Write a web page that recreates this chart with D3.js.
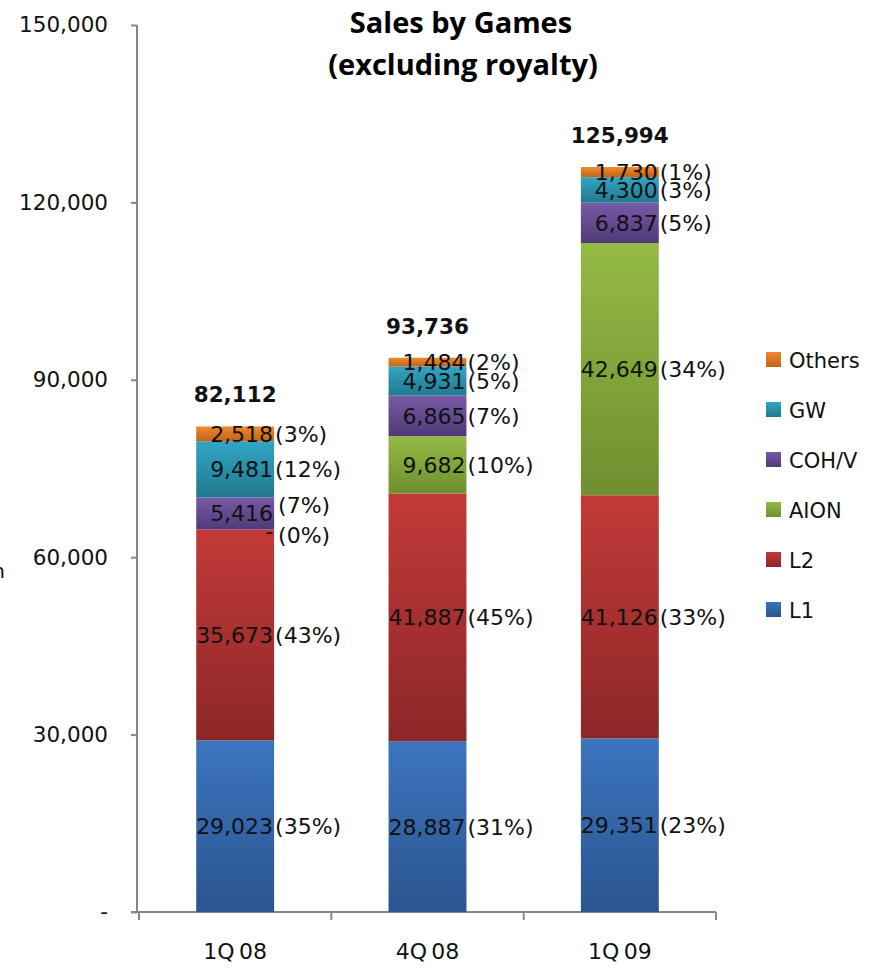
<!DOCTYPE html>
<html>
<head>
<meta charset="utf-8">
<script src="https://cdn.jsdelivr.net/npm/d3@7"></script>
<style>
  body { margin: 0; background: #fff; }
  svg { display: block; font-family: "DejaVu Sans", sans-serif; }
</style>
</head>
<body>
<svg id="chart" width="876" height="973"></svg>
<script>
// Data
var categories = ['1Q 08', '4Q 08', '1Q 09'];
var games = ['L1', 'L2', 'AION', 'COH/V', 'GW', 'Others'];
var l1 = [29023, 28887, 29351];
var l2 = [35673, 41887, 41126];
var aion = [0, 9682, 42649];
var cohv = [5416, 6865, 6837];
var gw = [9481, 4931, 4300];
var others = [2518, 1484, 1730];
var totals = [82112, 93736, 125994];
var pctL1 = [35, 31, 23];
var pctL2 = [43, 45, 33];
var pctAion = [0, 10, 34];
var pctCohv = [7, 7, 5];
var pctGw = [12, 5, 3];
var pctOthers = [3, 2, 1];
var yTicks = [0, 30000, 60000, 90000, 120000, 150000];

var values = [l1, l2, aion, cohv, gw, others];
var pcts = [pctL1, pctL2, pctAion, pctCohv, pctGw, pctOthers];

// colours (top, bottom of each gradient)
var colors = {
  'L1': ['#3c74be', '#2a5590'],
  'L2': ['#c23a38', '#8c2727'],
  'AION': ['#94ba45', '#6f8f30'],
  'COH/V': ['#785aa6', '#4f3a78'],
  'GW': ['#30a6c4', '#227890'],
  'Others': ['#f08a2c', '#c0641a']
};

var svg = d3.select('#chart');
var defs = svg.append('defs');
games.forEach(function(g, i) {
  var grad = defs.append('linearGradient')
    .attr('id', 'grad' + i)
    .attr('x1', 0).attr('y1', 0).attr('x2', 0).attr('y2', 1);
  grad.append('stop').attr('offset', '0%').attr('stop-color', colors[g][0]);
  grad.append('stop').attr('offset', '100%').attr('stop-color', colors[g][1]);
});

var x = d3.scaleBand().domain(categories).range([139, 716]);
var y = d3.scaleLinear().domain([0, 150000]).range([912, 25]);
var barW = x.bandwidth() * 0.405;
var fmt = d3.format(',');

// stacking
var rows = categories.map(function(c, i) {
  var r = { cat: c };
  games.forEach(function(g, j) { r[g] = values[j][i]; });
  return r;
});
var stack = d3.stack().keys(games)(rows);

// axes
var yAxis = svg.append('g')
  .attr('transform', 'translate(137,0)')
  .call(d3.axisLeft(y).tickValues(yTicks).tickSize(6).tickPadding(23)
    .tickFormat(function(d) { return d === 0 ? '-' : fmt(d); }));
yAxis.select('.domain').attr('d', 'M0,' + y(150000) + 'V' + y(0));
yAxis.selectAll('line').attr('stroke', '#888').attr('stroke-width', 2);
yAxis.select('.domain').attr('stroke', '#888').attr('stroke-width', 2);
yAxis.selectAll('text').attr('font-size', 21.5).attr('fill', '#111')
  .attr('font-family', '"DejaVu Sans", sans-serif');

var xAxis = svg.append('g')
  .attr('transform', 'translate(0,912)');
xAxis.append('line')
  .attr('x1', 131).attr('x2', 716).attr('y1', 0).attr('y2', 0)
  .attr('stroke', '#888').attr('stroke-width', 2);
xAxis.selectAll('.tk')
  .data([139].concat(categories.map(function(c) { return x(c) + x.bandwidth(); })))
  .enter().append('line')
  .attr('x1', function(d) { return d; }).attr('x2', function(d) { return d; })
  .attr('y1', 0).attr('y2', 8)
  .attr('stroke', '#888').attr('stroke-width', 2);
xAxis.selectAll('.lbl')
  .data(categories).enter().append('text')
  .attr('x', function(d) { return x(d) + x.bandwidth() / 2; })
  .attr('y', 47)
  .attr('text-anchor', 'middle')
  .attr('font-size', 22).attr('fill', '#111')
  .text(function(d) { return d.replace(' ', '\u2009'); });

// bars
var layers = svg.selectAll('.layer').data(stack).enter().append('g')
  .attr('fill', function(d, i) { return 'url(#grad' + i + ')'; });
layers.selectAll('rect').data(function(d) { return d; }).enter().append('rect')
  .attr('x', function(d) { return x(d.data.cat) + (x.bandwidth() - barW) / 2; })
  .attr('width', barW)
  .attr('y', function(d) { return y(d[1]); })
  .attr('height', function(d) { return y(d[0]) - y(d[1]); });

// segment labels
stack.forEach(function(layer, j) {
  layer.forEach(function(d, i) {
    var cx = x(d.data.cat) + (x.bandwidth() + barW) / 2;
    var v = values[j][i];
    var cy = (y(d[0]) + y(d[1])) / 2 + 8;
    var py = cy;
    if (v === 0) { cy += 2; py += 6; }
    if (j === 3 && i === 0) { py -= 8; }
    svg.append('text')
      .attr('x', cx - 1).attr('y', cy)
      .attr('text-anchor', 'end')
      .attr('font-size', 22).attr('fill', '#111')
      .text(v === 0 ? '-' : fmt(v));
    svg.append('text')
      .attr('x', cx + ((v === 0 || (j === 3 && i === 0)) ? 4 : 1)).attr('y', py)
      .attr('font-size', 22).attr('fill', '#111')
      .text('(' + pcts[j][i] + '%)');
  });
});

// totals
svg.selectAll('.total').data(categories).enter().append('text')
  .attr('x', function(d) { return x(d) + x.bandwidth() / 2; })
  .attr('y', function(d, i) { return y(totals[i]) - 24; })
  .attr('text-anchor', 'middle')
  .attr('font-size', 21.5).attr('font-weight', 'bold').attr('fill', '#111')
  .text(function(d, i) { return fmt(totals[i]); });

// title
svg.append('text').attr('x', 461).attr('y', 33)
  .attr('text-anchor', 'middle').attr('font-size', 29).attr('font-weight', 'bold')
  .attr('font-family', '"Open Sans", sans-serif')
  .text('Sales by Games');
svg.append('text').attr('x', 463).attr('y', 75)
  .attr('text-anchor', 'middle').attr('font-size', 29).attr('font-weight', 'bold')
  .attr('font-family', '"Open Sans", sans-serif')
  .text('(excluding royalty)');

// clipped axis unit at far left
svg.append('text').attr('x', 5).attr('y', 578)
  .attr('text-anchor', 'end').attr('font-size', 20).attr('fill', '#111')
  .text('KRW mn');

// legend
var legendKeys = games.slice().reverse();
var legend = svg.selectAll('.leg').data(legendKeys).enter().append('g')
  .attr('transform', function(d, i) { return 'translate(766,' + (352 + i * 50) + ')'; });
legend.append('rect').attr('width', 15).attr('height', 15)
  .attr('fill', function(d) { return 'url(#grad' + games.indexOf(d) + ')'; });
legend.append('text').attr('x', 23).attr('y', 16)
  .attr('font-size', 21).attr('fill', '#111')
  .text(function(d) { return d; });
</script>
</body>
</html>
